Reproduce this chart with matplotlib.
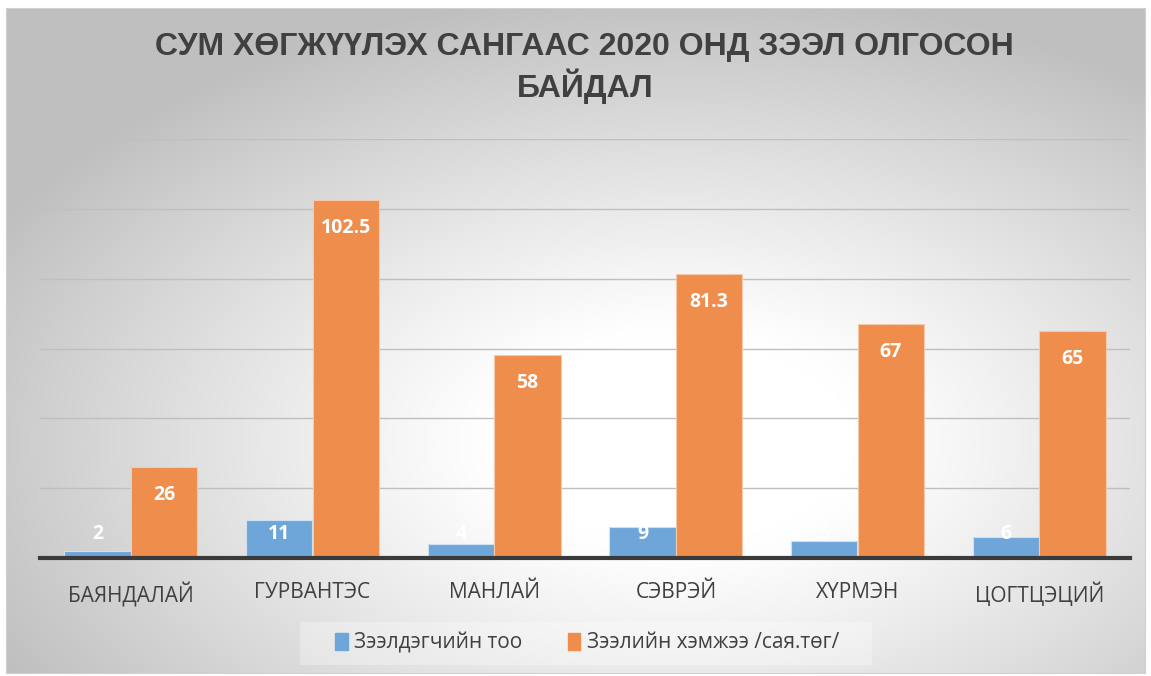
import numpy as np
import matplotlib
matplotlib.use("Agg")
import matplotlib.pyplot as plt
from matplotlib.patches import Rectangle

categories = ["БАЯНДАЛАЙ", "ГУРВАНТЭС", "МАНЛАЙ", "СЭВРЭЙ", "ХҮРМЭН", "ЦОГТЦЭЦИЙ"]
borrowers = [2, 11, 4, 9, 5, 6]
amounts = [26, 102.5, 58, 81.3, 67, 65]
amount_labels = ["26", "102.5", "58", "81.3", "67", "65"]
series_names = ["Зээлдэгчийн тоо", "Зээлийн хэмжээ /сая.төг/"]
title = "СУМ ХӨГЖҮҮЛЭХ САНГААС 2020 ОНД ЗЭЭЛ ОЛГОСОН\nБАЙДАЛ"

W, H = 1151, 676
fig = plt.figure(figsize=(W / 100, H / 100), dpi=100)
fig.patch.set_facecolor("white")

# radial gradient background, brightest a bit below the middle
bg = fig.add_axes([0.005, 0.004, 0.99, 0.984])
yy, xx = np.mgrid[0:200, 0:340]
cx, cy = 200, 130
r = np.sqrt(((xx - cx) / 340) ** 2 + ((yy - cy) / 200) ** 2)
r = np.clip((r - 0.16) / 0.52, 0, 1)
shade = 1.0 - 0.25 * r ** 1.1
bg.imshow(np.dstack([shade, shade, shade]), aspect="auto", extent=[0, 1, 0, 1],
          interpolation="bicubic")
bg.set_xlim(0, 1)
bg.set_ylim(0, 1)
bg.set_xticks([])
bg.set_yticks([])
for s in bg.spines.values():
    s.set_color("#d0d0d0")
    s.set_linewidth(0.8)

ax = fig.add_axes([40 / W, 1 - 558 / H, 1090 / W, (558 - 139) / H])
ax.patch.set_alpha(0)
x = np.arange(len(categories))
bw = 0.366
blue = "#6FA6DA"
orange = "#EE8D4C"
ax.bar(x - bw / 2, borrowers, bw, color=blue, edgecolor="#cfe0f0", linewidth=0.8, zorder=3)
ax.bar(x + bw / 2, amounts, bw, color=orange, edgecolor="#f6c9a8", linewidth=0.8, zorder=3)

ax.set_xlim(-0.5, len(categories) - 0.5)
ax.set_ylim(0, 120)
ax.set_yticks(np.arange(0, 121, 20))
ax.yaxis.grid(True, color="#bfbfbf", linewidth=1.0, zorder=0)
ax.tick_params(axis="y", left=False, labelleft=False)
ax.tick_params(axis="x", bottom=False, pad=14)
ax.set_xticks(x)
ax.set_xticklabels(categories, fontsize=15, color="#404040", family="Open Sans")
for name in ["top", "right", "left"]:
    ax.spines[name].set_visible(False)
ax.spines["bottom"].set_color("#3a3a3a")
ax.spines["bottom"].set_linewidth(3)
ax.spines["bottom"].set_zorder(4)

for xi, v, lab in zip(x, amounts, amount_labels):
    ax.text(xi + bw / 2, v - 8, lab, ha="center", va="center", color="white",
            fontsize=14, fontweight="bold", family="Open Sans", zorder=5)
for xi, v in zip(x, borrowers):
    ax.text(xi - bw / 2, 7, str(v), ha="center", va="center", color="white",
            fontsize=14, fontweight="bold", family="Open Sans", zorder=5)

fig.text(0.508, 1 - 68 / H, title, ha="center", va="center", fontsize=23,
         fontweight="bold", color="#404040", linespacing=1.2,
         family=["Liberation Sans", "DejaVu Sans"])

# legend with light box
lg_box = Rectangle((300 / W, 1 - 665 / H), 572 / W, 43 / H, transform=fig.transFigure,
                   facecolor="white", alpha=0.3, edgecolor="none", zorder=1)
fig.patches.append(lg_box)
handles = [Rectangle((0, 0), 1, 1, color=blue), Rectangle((0, 0), 1, 1, color=orange)]
fig.legend(handles, series_names, loc="center", bbox_to_anchor=(587 / W, 1 - 643 / H),
           ncol=2, frameon=False, handlelength=0.6, handleheight=0.9,
           handletextpad=0.3, columnspacing=2.2,
           prop={"family": "Open Sans", "size": 15}, labelcolor="#404040")

fig.savefig("out.png", dpi=100)
